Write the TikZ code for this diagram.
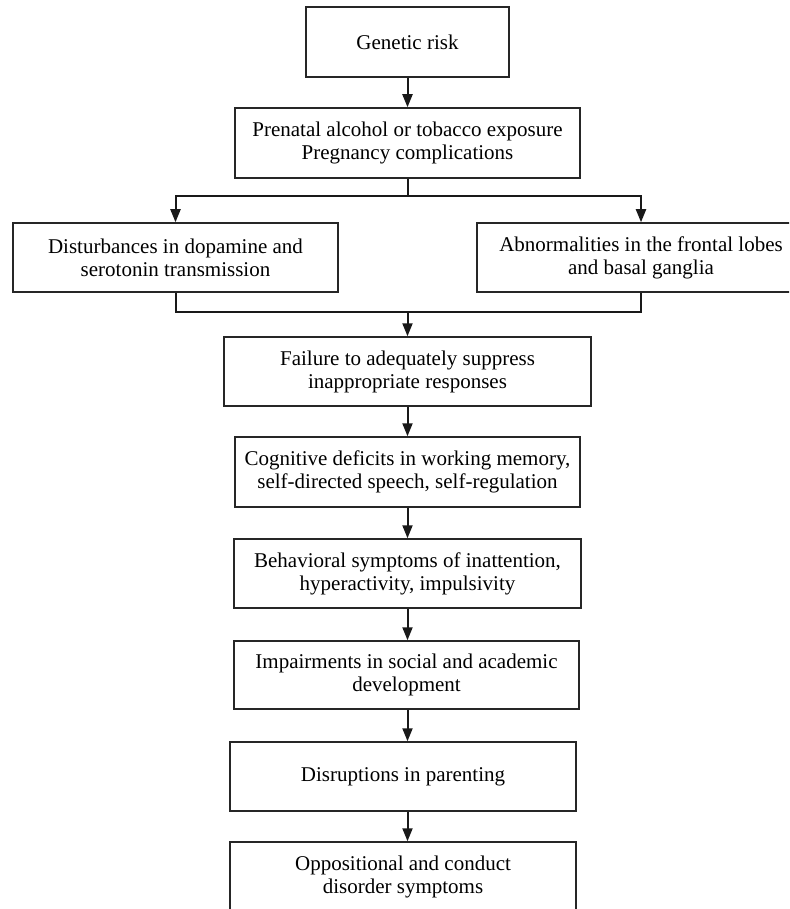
\documentclass[tikz,border=0pt]{standalone}
\usepackage{fontspec}
\setmainfont{Liberation Serif}
\usetikzlibrary{arrows.meta}
\begin{document}
\begin{tikzpicture}[x=1pt,y=-1pt,
  box/.style={draw=black!85, line width=1.5pt, align=center, inner sep=0pt,
    font=\fontsize{21pt}{23pt}\selectfont, text=black},
  conn/.style={line width=2pt, draw=black!90},
  arr/.style={conn, -{Triangle[length=13pt,width=10pt]}}]
\clip (0,0) rectangle (789,909);
\fill[white] (0,0) rectangle (789,909);
\node[box, minimum width=203pt, minimum height=70pt] (g) at (407.5,42) {Genetic risk};
\node[box, minimum width=345pt, minimum height=70pt] (p) at (407.5,143) {Prenatal alcohol or tobacco exposure\\Pregnancy complications};
\node[box, minimum width=325pt, minimum height=69pt] (L) at (175.5,257.5) {Disturbances in dopamine and\\serotonin transmission};
\node[box, minimum width=328pt, minimum height=69pt] (R) at (641,257.5) {Abnormalities in the frontal lobes\\and basal ganglia};
\node[box, minimum width=367pt, minimum height=69pt] (f) at (407.5,371.5) {Failure to adequately suppress\\inappropriate responses};
\node[box, minimum width=345pt, minimum height=70pt] (c) at (407.5,472) {Cognitive deficits in working memory,\\self-directed speech, self-regulation};
\node[box, minimum width=347pt, minimum height=69pt] (b) at (407.5,573.5) {Behavioral symptoms of inattention,\\hyperactivity, impulsivity};
\node[box, minimum width=345pt, minimum height=68pt] (i) at (406.5,675) {Impairments in social and academic\\development};
\node[box, minimum width=346pt, minimum height=69pt] (d) at (403,776.5) {Disruptions in parenting};
\node[box, minimum width=346pt, minimum height=69pt] (o) at (403,876.5) {Oppositional and conduct\\disorder symptoms};
\coordinate (split) at (407.5,196);
\coordinate (merge) at (407.5,312);
\draw[arr] (g.south) -- (p.north);
\draw[conn] (p.south) -- (split);
\draw[arr] (split) -| (L.north);
\draw[arr] (split) -| (R.north);
\draw[conn] (L.south) |- (merge);
\draw[conn] (R.south) |- (merge);
\draw[arr] (merge) -- (f.north);
\draw[arr] (f.south) -- (c.north);
\draw[arr] (c.south) -- (b.north);
\draw[arr] (b.south) -- (i.north -| b.south);
\draw[arr] (i.south -| b.south) -- (d.north -| b.south);
\draw[arr] (d.south -| b.south) -- (o.north -| b.south);
\end{tikzpicture}
\end{document}
